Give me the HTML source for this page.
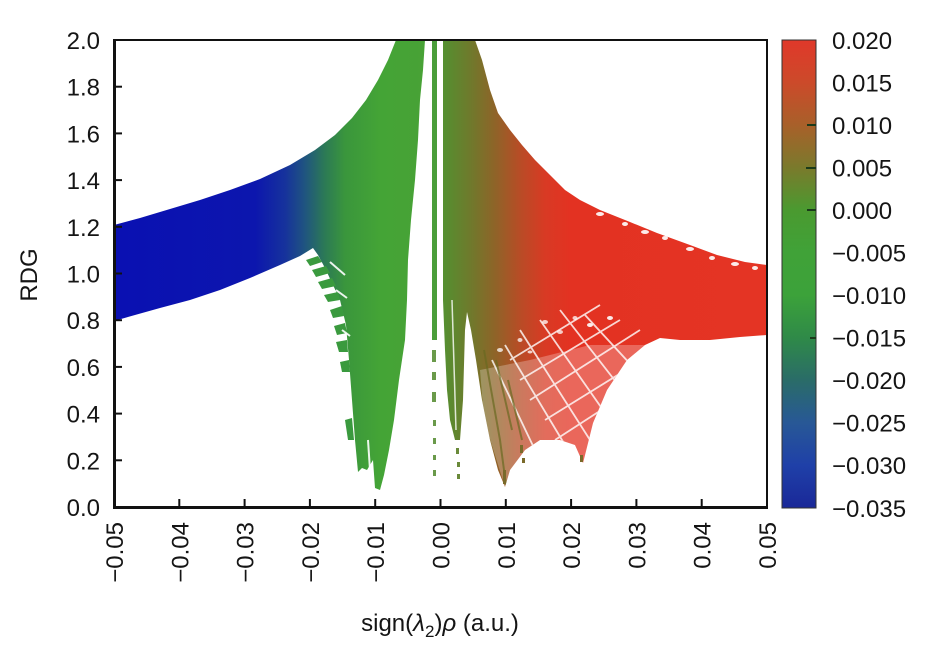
<!DOCTYPE html>
<html><head><meta charset="utf-8"><style>
html,body{margin:0;padding:0;background:#fff;}
svg{display:block;}
text{font-family:"Liberation Sans",sans-serif;fill:#151515;}
</style></head><body>
<svg width="928" height="650" viewBox="0 0 928 650" xmlns="http://www.w3.org/2000/svg">
<defs>
<linearGradient id="g" gradientUnits="userSpaceOnUse" x1="114" y1="0" x2="767" y2="0">
<stop offset="0" stop-color="#0a10b2"/>
<stop offset="0.216" stop-color="#0c16ae"/>
<stop offset="0.262" stop-color="#16329c"/>
<stop offset="0.292" stop-color="#1f5480"/>
<stop offset="0.323" stop-color="#2c7a55"/>
<stop offset="0.354" stop-color="#3a963c"/>
<stop offset="0.407" stop-color="#44a436"/>
<stop offset="0.476" stop-color="#48a236"/>
<stop offset="0.507" stop-color="#568e30"/>
<stop offset="0.545" stop-color="#6e7a2c"/>
<stop offset="0.583" stop-color="#8e6428"/>
<stop offset="0.622" stop-color="#b84c26"/>
<stop offset="0.660" stop-color="#d83a24"/>
<stop offset="0.699" stop-color="#e33222"/>
<stop offset="1" stop-color="#e43424"/>
</linearGradient>
<linearGradient id="cb" x1="0" y1="0" x2="0" y2="1">
<stop offset="0" stop-color="#e0382a"/>
<stop offset="0.091" stop-color="#cc4a2a"/>
<stop offset="0.182" stop-color="#a8602a"/>
<stop offset="0.273" stop-color="#7a7a2c"/>
<stop offset="0.364" stop-color="#4a9a30"/>
<stop offset="0.455" stop-color="#40a238"/>
<stop offset="0.545" stop-color="#3ca23a"/>
<stop offset="0.636" stop-color="#2f8a48"/>
<stop offset="0.727" stop-color="#2a6c68"/>
<stop offset="0.818" stop-color="#285896"/>
<stop offset="0.909" stop-color="#1f40a8"/>
<stop offset="1" stop-color="#1a2898"/>
</linearGradient>
<clipPath id="rc"><polygon points="443,40 475,40 482,60 490,90 498,113 510,130 522,145 535,160 550,175 565,190 580,200 600,210 630,222 657,233 690,245 717,255 745,262 767,265 767,335 740,337 710,340 680,340 660,338 645,345 627,360 607,390 593,423 583,463 575,445 560,440 540,440 525,450 510,470 505,487 498,470 490,440 482,400 476,360 471,330 467,312 465,330 463,400 460,440 455,440 450,420 447,390 445,350 443,300"/></clipPath>
</defs>

<polygon fill="url(#g)" points="114,225 140,218 170,209 200,200 230,190 260,179 290,165 315,150 335,135 352,118 366,100 378,80 388,60 396,40 425,40 423,70 420,100 418,140 415,180 411,220 408,260 407,300 405,340 399,380 394,420 389,450 384,475 380,490 375,488 373,460 367,470 362,468 358,472 355,440 352,400 349,360 346,325 340,300 333,285 325,268 318,255 313,248 300,256 280,265 250,278 220,290 190,300 160,308 135,315 114,321"/>
<g fill="#3a9a3e">
<polygon points="306,260 318,256 322,262 310,266"/>
<polygon points="312,270 326,266 330,273 316,277"/>
<polygon points="318,282 332,278 336,286 322,289"/>
<polygon points="324,295 338,292 340,300 328,302"/>
<polygon points="330,310 342,306 344,316 333,318"/>
<polygon points="334,326 345,323 347,333 337,335"/>
<polygon points="336,342 347,340 348,352 339,352"/>
<polygon points="340,362 349,360 350,372 342,372"/>
<polygon points="345,420 352,418 354,440 348,440"/>
</g>
<g stroke="#fff" stroke-width="2" fill="none" opacity="0.9">
<path d="M330,262 L345,275"/><path d="M336,290 L347,298"/><path d="M342,330 L350,336"/>
<path d="M368,440 L370,470"/>
</g>

<rect x="432" y="40" width="5" height="300" fill="#4a9e3a"/>
<g fill="#6a9a4a">
<rect x="432" y="350" width="4" height="12"/><rect x="432" y="372" width="4" height="8"/>
<rect x="432" y="392" width="4" height="10"/><rect x="433" y="420" width="3" height="6"/>
<rect x="433" y="438" width="3" height="6"/><rect x="433" y="455" width="3" height="5"/>
<rect x="433" y="470" width="3" height="6"/>
</g>

<polygon fill="url(#g)" points="443,40 475,40 482,60 490,90 498,113 510,130 522,145 535,160 550,175 565,190 580,200 600,210 630,222 657,233 690,245 717,255 745,262 767,265 767,335 740,337 710,340 680,340 660,338 645,345 627,360 607,390 593,423 583,463 575,445 560,440 540,440 525,450 510,470 505,487 498,470 490,440 482,400 476,360 471,330 467,312 465,330 463,400 460,440 455,440 450,420 447,390 445,350 443,300"/>
<g fill="#6a8a3a">
<rect x="456" y="448" width="3" height="6"/><rect x="457" y="462" width="3" height="5"/><rect x="457" y="474" width="3" height="5"/>
</g>
<g clip-path="url(#rc)" fill="none">
<polygon points="480,370 530,360 590,345 645,345 600,440 583,463 505,487 484,420" fill="#fff" stroke="none" opacity="0.26"/>
<g fill="#fff" stroke="none" opacity="0.75">
<ellipse cx="545" cy="322" rx="3" ry="2"/><ellipse cx="560" cy="332" rx="3" ry="2"/>
<ellipse cx="575" cy="318" rx="2.5" ry="2"/><ellipse cx="520" cy="340" rx="2.5" ry="2"/>
<ellipse cx="500" cy="350" rx="3" ry="2"/><ellipse cx="530" cy="352" rx="2.5" ry="1.5"/>
</g>
<g stroke="#fff" stroke-width="1.8" opacity="0.8">
<path d="M540,320 L610,420"/><path d="M560,310 L630,400"/><path d="M585,315 L645,380"/>
<path d="M520,330 L590,440"/><path d="M505,345 L565,445"/><path d="M492,360 L535,450"/>
<path d="M530,400 L640,330"/><path d="M545,420 L650,355"/><path d="M555,440 L640,385"/>
<path d="M520,380 L620,320"/><path d="M510,360 L600,305"/>
</g>
<g stroke="#6a6a22" stroke-width="2" opacity="0.7">
<path d="M484,350 L500,440 L506,485"/><path d="M496,360 L512,430"/><path d="M508,380 L522,440"/>
</g>
<g stroke="#fff" stroke-width="1.5" opacity="0.8">
<path d="M452,300 L456,430"/>
</g>
</g>
<g fill="#fff" opacity="0.9">
<ellipse cx="600" cy="214" rx="4" ry="2"/><ellipse cx="625" cy="224" rx="3" ry="2"/>
<ellipse cx="645" cy="232" rx="4" ry="2"/><ellipse cx="665" cy="238" rx="3" ry="2"/>
<ellipse cx="690" cy="249" rx="4" ry="2"/><ellipse cx="712" cy="258" rx="3" ry="2"/>
<ellipse cx="735" cy="264" rx="4" ry="2"/><ellipse cx="755" cy="268" rx="3" ry="2"/>
<ellipse cx="590" cy="325" rx="3" ry="2"/><ellipse cx="610" cy="318" rx="3" ry="2"/>
</g>
<g fill="#7a6a2a">
<rect x="503" y="470" width="3" height="14"/><rect x="520" y="445" width="3" height="8"/>
<rect x="522" y="458" width="3" height="5"/><rect x="580" y="455" width="3" height="7"/>
</g>

<rect x="115" y="40" width="652" height="467" fill="none" stroke="#111" stroke-width="2"/>
<line x1="114.5" y1="39" x2="114.5" y2="509" stroke="#111" stroke-width="3"/>
<line x1="113" y1="507.5" x2="768" y2="507.5" stroke="#111" stroke-width="3"/>
<g stroke="#111" stroke-width="2">
<line x1="114" y1="86.7" x2="122" y2="86.7"/><line x1="114" y1="133.4" x2="122" y2="133.4"/>
<line x1="114" y1="180.1" x2="122" y2="180.1"/><line x1="114" y1="226.8" x2="122" y2="226.8"/>
<line x1="114" y1="273.5" x2="122" y2="273.5"/><line x1="114" y1="320.2" x2="122" y2="320.2"/>
<line x1="114" y1="366.9" x2="122" y2="366.9"/><line x1="114" y1="413.6" x2="122" y2="413.6"/>
<line x1="114" y1="460.3" x2="122" y2="460.3"/>
<line x1="179.3" y1="507" x2="179.3" y2="499"/><line x1="244.6" y1="507" x2="244.6" y2="499"/>
<line x1="309.9" y1="507" x2="309.9" y2="499"/><line x1="375.2" y1="507" x2="375.2" y2="499"/>
<line x1="440.5" y1="507" x2="440.5" y2="499"/><line x1="505.8" y1="507" x2="505.8" y2="499"/>
<line x1="571.1" y1="507" x2="571.1" y2="499"/><line x1="636.4" y1="507" x2="636.4" y2="499"/>
<line x1="701.7" y1="507" x2="701.7" y2="499"/>
</g>
<g font-size="24" text-anchor="end">
<text x="100" y="49">2.0</text><text x="100" y="95.7">1.8</text><text x="100" y="142.4">1.6</text>
<text x="100" y="189.1">1.4</text><text x="100" y="235.8">1.2</text><text x="100" y="282.5">1.0</text>
<text x="100" y="329.2">0.8</text><text x="100" y="375.9">0.6</text><text x="100" y="422.6">0.4</text>
<text x="100" y="469.3">0.2</text><text x="100" y="516">0.0</text>
</g>
<g font-size="24" text-anchor="end">
<text transform="translate(123,522) rotate(-90)">−0.05</text>
<text transform="translate(188.3,522) rotate(-90)">−0.04</text>
<text transform="translate(253.6,522) rotate(-90)">−0.03</text>
<text transform="translate(318.9,522) rotate(-90)">−0.02</text>
<text transform="translate(384.2,522) rotate(-90)">−0.01</text>
<text transform="translate(449.5,522) rotate(-90)">0.00</text>
<text transform="translate(514.8,522) rotate(-90)">0.01</text>
<text transform="translate(580.1,522) rotate(-90)">0.02</text>
<text transform="translate(645.4,522) rotate(-90)">0.03</text>
<text transform="translate(710.7,522) rotate(-90)">0.04</text>
<text transform="translate(776,522) rotate(-90)">0.05</text>
</g>
<text font-size="24" transform="translate(37,275) rotate(-90)" text-anchor="middle">RDG</text>
<text font-size="24" x="440" y="631" text-anchor="middle">sign(<tspan font-style="italic">λ</tspan><tspan font-size="17" dy="6">2</tspan><tspan dy="-6">)</tspan><tspan font-style="italic">ρ</tspan> (a.u.)</text>

<rect x="782" y="40" width="34" height="468" fill="url(#cb)" stroke="#333" stroke-width="1"/>
<g stroke="#1a3a1a" stroke-width="2">
<line x1="807" y1="125" x2="816" y2="125"/><line x1="806" y1="168" x2="816" y2="168"/>
<line x1="807" y1="210" x2="816" y2="210"/><line x1="810" y1="338" x2="816" y2="338"/>
</g>
<g font-size="24">
<text x="832" y="49">0.020</text><text x="832" y="91.5">0.015</text><text x="832" y="134">0.010</text>
<text x="832" y="176.5">0.005</text><text x="832" y="219">0.000</text><text x="832" y="261.5">−0.005</text>
<text x="832" y="304">−0.010</text><text x="832" y="346.5">−0.015</text><text x="832" y="389">−0.020</text>
<text x="832" y="431.5">−0.025</text><text x="832" y="474">−0.030</text><text x="832" y="517">−0.035</text>
</g>
</svg>
</body></html>
